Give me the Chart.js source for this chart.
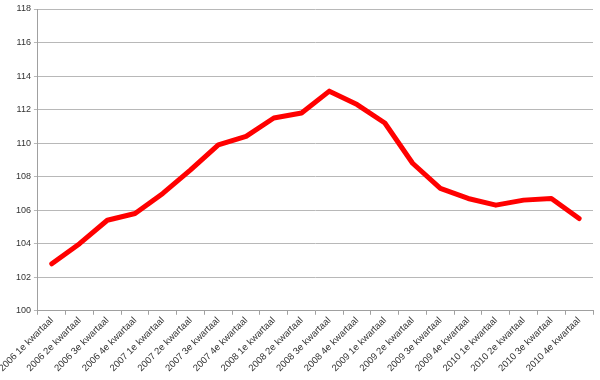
<!DOCTYPE html>
<html>
<head>
<meta charset="utf-8">
<script src="https://cdn.jsdelivr.net/npm/chart.js@4/dist/chart.umd.min.js"></script>
<style>
html,body{margin:0;padding:0;background:#fff;}
#wrap{width:600px;height:380px;}
</style>
</head>
<body>
<div id="wrap"><canvas id="c" width="600" height="380"></canvas></div>
<script>
const categories = [
  "2006 1e kwartaal","2006 2e kwartaal","2006 3e kwartaal","2006 4e kwartaal",
  "2007 1e kwartaal","2007 2e kwartaal","2007 3e kwartaal","2007 4e kwartaal",
  "2008 1e kwartaal","2008 2e kwartaal","2008 3e kwartaal","2008 4e kwartaal",
  "2009 1e kwartaal","2009 2e kwartaal","2009 3e kwartaal","2009 4e kwartaal",
  "2010 1e kwartaal","2010 2e kwartaal","2010 3e kwartaal","2010 4e kwartaal"
];
const values = [102.8,104.0,105.4,105.8,107.0,108.4,109.9,110.4,111.5,111.8,113.1,112.3,111.2,108.8,107.3,106.7,106.3,106.6,106.7,105.5];
const yMin = 100, yMax = 118, yStep = 2;

new Chart(document.getElementById('c'), {
  type: 'line',
  data: {
    labels: categories,
    datasets: [{
      data: values,
      borderColor: '#ff0000',
      borderWidth: 5,
      pointRadius: 0,
      tension: 0,
      fill: false,
      borderJoinStyle: 'round',
      borderCapStyle: 'round'
    }]
  },
  options: {
    responsive: false,
    animation: false,
    layout: { padding: { left: 0, right: 7, top: 9, bottom: 6 } },
    plugins: { legend: { display: false }, tooltip: { enabled: false } },
    scales: {
      x: {
        offset: true,
        grid: { offset: true, drawOnChartArea: false, drawTicks: true, tickLength: 4, color: '#a0a0a0' },
        border: { color: '#a0a0a0' },
        ticks: { minRotation: 45, maxRotation: 45, autoSkip: false, color: '#333', font: { family: 'Liberation Sans', size: 9.5 }, padding: 0 }
      },
      y: {
        min: yMin, max: yMax,
        ticks: { stepSize: yStep, color: '#333', font: { family: 'Liberation Sans', size: 9 }, padding: 3 },
        grid: { color: '#b8b8b8', tickLength: 4 },
        border: { color: '#a0a0a0' }
      }
    }
  }
});
</script>
</body>
</html>
